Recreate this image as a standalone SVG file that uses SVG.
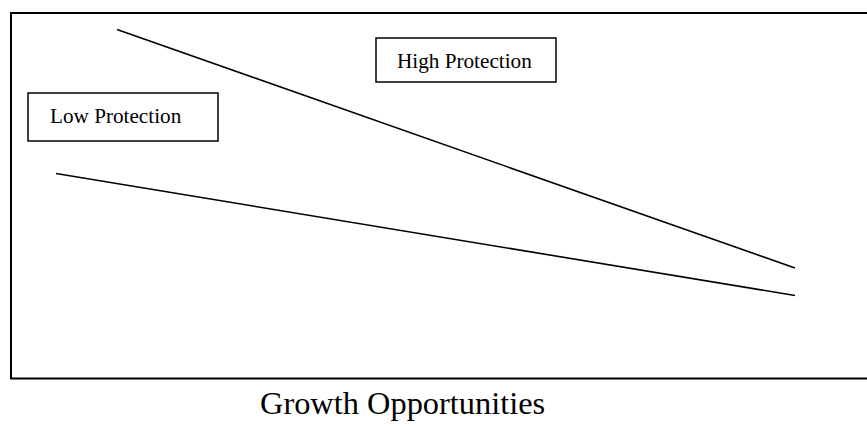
<svg xmlns="http://www.w3.org/2000/svg" width="867" height="428" viewBox="0 0 867 428">
  <style>
    .frame { fill: none; stroke: #000; stroke-width: 2; }
    .box { fill: #fff; stroke: #000; stroke-width: 1.5; }
    .line { fill: none; stroke: #000; stroke-width: 1.6; }
    .label { font-family: "Liberation Serif", "Times New Roman", serif; font-size: 21.2px; fill: #000; }
    .axis { font-family: "Liberation Serif", "Times New Roman", serif; font-size: 32.4px; fill: #000; }
  </style>
  <rect width="867" height="428" fill="#fff"/>
  <!-- chart frame, open past the right edge -->
  <path class="frame" d="M870,13 H11 V378.5 H870"/>
  <g id="connectors">
    <line class="line" x1="117" y1="29.5" x2="795" y2="268"/>
    <line class="line" x1="56" y1="173.5" x2="795" y2="295.5"/>
  </g>
  <g id="low-protection">
    <rect class="box" x="28" y="93" width="190" height="48"/>
    <text class="label" x="50" y="123">Low Protection</text>
  </g>
  <g id="high-protection">
    <rect class="box" x="376" y="38" width="180" height="44"/>
    <text class="label" x="397" y="68">High Protection</text>
  </g>
  <text class="axis" x="260" y="414">Growth Opportunities</text>
</svg>
